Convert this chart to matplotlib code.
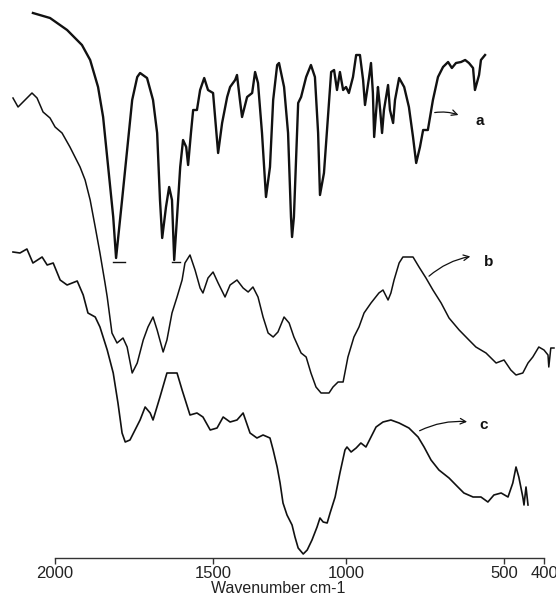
import numpy as np
import matplotlib.pyplot as plt

# Espectros FTIR (numero de onda em cm-1, transmitancia em unidades arbitrarias)
wn_a = [2070, 2016, 1962, 1915, 1889, 1864, 1848, 1832, 1816, 1807, 1788, 1772, 1756, 1740,
        1731, 1709, 1690, 1677, 1668, 1661, 1649, 1639, 1630, 1623, 1614, 1604, 1595, 1585,
        1579, 1570, 1563, 1551, 1541, 1528, 1516, 1500, 1481, 1466, 1447, 1436, 1417, 1410,
        1399, 1391, 1372, 1353, 1342, 1331, 1316, 1301, 1286, 1274, 1259, 1252, 1233, 1218,
        1207, 1203, 1196, 1180, 1169, 1150, 1132, 1117, 1105, 1098, 1083, 1068, 1056, 1045,
        1034, 1023, 1011, 1000, 991, 978, 968, 956, 946, 940, 927, 921, 915, 911, 902, 899,
        892, 886, 880, 867, 861, 851, 845, 832, 816, 801, 788, 778, 766, 756, 741, 725, 709,
        693, 677, 665, 652, 636, 623, 611, 598, 592, 579, 573, 560]
t_a = [109.0, 108.0, 105.6, 102.6, 99.6, 94.2, 88.2, 78.2, 68.2, 60.0, 71.6, 81.6, 91.6, 96.2,
       97.0, 96.0, 91.6, 85.0, 71.6, 64.0, 70.2, 74.2, 71.6, 59.6, 68.2, 78.2, 83.6, 82.2,
       78.6, 85.0, 89.6, 89.6, 93.6, 96.0, 93.6, 93.0, 81.0, 87.0, 92.2, 94.2, 95.6, 96.6,
       91.6, 88.2, 92.2, 93.0, 97.2, 95.0, 85.0, 72.2, 78.2, 91.6, 98.6, 99.0, 94.2, 85.0,
       68.2, 64.2, 68.2, 91.0, 92.2, 96.2, 98.6, 96.2, 85.0, 72.6, 77.0, 88.2, 97.2, 97.6,
       93.6, 97.2, 93.6, 94.2, 93.0, 96.2, 100.6, 100.6, 95.6, 90.6, 96.2, 99.0, 93.0, 84.2,
       91.6, 94.2, 89.6, 85.0, 89.6, 94.6, 89.6, 87.0, 91.6, 96.0, 94.2, 90.2, 84.2, 79.0,
       82.2, 85.6, 85.6, 91.6, 96.2, 98.2, 99.2, 98.0, 99.0, 99.2, 99.6, 99.0, 98.0, 93.6,
       96.6, 99.6, 100.6]

wn_b = [2133, 2117, 2095, 2073, 2057, 2038, 2016, 2000, 1978, 1953, 1937, 1921, 1905, 1889,
        1873, 1858, 1842, 1835, 1820, 1804, 1785, 1772, 1756, 1740, 1721, 1706, 1690, 1677,
        1658, 1646, 1630, 1614, 1598, 1589, 1573, 1557, 1541, 1532, 1516, 1500, 1481, 1455,
        1436, 1410, 1387, 1368, 1350, 1331, 1312, 1293, 1274, 1256, 1233, 1214, 1196, 1169,
        1150, 1132, 1113, 1094, 1064, 1049, 1030, 1011, 994, 975, 959, 943, 921, 896, 883,
        867, 858, 848, 832, 820, 788, 769, 747, 725, 699, 674, 642, 611, 589, 557, 525, 500,
        483, 470, 453, 440, 428, 413, 400, 390, 388, 383, 375]
t_b = [92.0, 90.2, 91.6, 93.0, 92.0, 89.2, 88.0, 86.2, 85.0, 82.2, 80.2, 78.2, 75.6, 71.6,
       66.2, 61.0, 55.0, 52.2, 45.0, 43.0, 44.0, 42.2, 37.0, 39.0, 43.6, 46.2, 48.2, 45.6,
       41.2, 43.6, 49.0, 52.2, 55.6, 59.0, 60.6, 57.6, 54.0, 53.0, 56.0, 57.2, 55.0, 52.2,
       54.6, 55.6, 54.0, 53.2, 54.2, 52.2, 48.2, 45.0, 44.2, 45.2, 48.2, 47.0, 44.2, 41.0,
       40.2, 37.0, 34.2, 33.0, 33.0, 34.2, 35.2, 35.2, 40.2, 44.2, 46.2, 49.0, 51.0, 53.0,
       53.6, 51.6, 53.0, 55.6, 59.0, 60.2, 60.2, 58.2, 56.0, 53.6, 51.0, 48.0, 45.6, 43.6,
       42.2, 41.0, 39.0, 39.6, 37.6, 36.6, 37.0, 39.0, 40.2, 42.2, 41.6, 40.6, 38.2, 42.0,
       42.0]

wn_c = [2133, 2111, 2089, 2070, 2041, 2025, 2006, 1984, 1962, 1930, 1911, 1896, 1873, 1858,
        1835, 1816, 1801, 1788, 1778, 1763, 1747, 1731, 1715, 1699, 1690, 1668, 1646, 1630,
        1614, 1598, 1573, 1551, 1532, 1509, 1485, 1462, 1436, 1410, 1387, 1361, 1335, 1312,
        1286, 1274, 1259, 1248, 1237, 1222, 1203, 1192, 1180, 1161, 1146, 1128, 1109, 1098,
        1086, 1071, 1060, 1041, 1023, 1004, 997, 984, 968, 953, 937, 921, 905, 883, 858, 832,
        801, 772, 753, 731, 706, 674, 646, 627, 598, 573, 551, 532, 509, 490, 478, 470, 463,
        453, 450, 445, 440]
t_c = [61.2, 61.0, 61.8, 59.0, 60.2, 58.6, 59.0, 55.6, 54.6, 55.4, 52.6, 49.0, 48.2, 46.2,
       41.6, 37.0, 31.0, 25.0, 23.2, 23.6, 25.6, 27.6, 30.2, 29.0, 27.6, 32.2, 37.0, 37.0,
       37.0, 33.6, 28.6, 29.0, 28.2, 25.6, 26.0, 28.2, 27.2, 27.6, 29.0, 25.0, 24.0, 24.6,
       24.0, 21.6, 18.2, 15.0, 11.0, 8.6, 6.6, 4.2, 2.0, 0.8, 1.6, 3.6, 6.2, 8.0,
       7.2, 7.0, 9.0, 12.2, 17.0, 21.6, 22.2, 21.2, 22.0, 23.0, 22.2, 24.2, 26.2, 27.2, 27.6, 27.0,
       26.0, 24.2, 22.2, 19.6, 17.6, 16.0, 14.2, 13.0, 12.2, 12.2, 11.2, 12.6, 13.0, 12.2, 15.0, 18.2, 16.2,
       12.2, 10.6, 14.2, 10.6]

# marcadores de pico no espectro a
marcas = [(1816, 1778, 59.2), (1630, 1604, 59.2)]

# rotulos: (inicio da seta, ponta da seta, posicao do texto)
rotulos = {
    "a": ((728, 89.0), (636, 88.4), (590, 87.4)),
    "b": ((744, 56.0), (598, 60.4), (562, 59.2)),
    "c": ((775, 25.2), (608, 27.2), (577, 26.6)),
}

ticks = [2000, 1500, 1000, 500, 400]

# eixo x do original nao e linear: escala por partes
wn_nos = np.array([300, 400, 500, 1000, 1500, 2000, 2300], dtype=float)
pos_nos = -np.array([584, 544, 504, 346, 213, 55, -40], dtype=float)


def fwd(x):
    return np.interp(x, wn_nos, pos_nos)


def inv(y):
    return np.interp(y, pos_nos, wn_nos)


fig = plt.figure(figsize=(5.56, 6.0), dpi=100)
ax = fig.add_axes([0, 0.07, 1, 0.93])
ax.set_xscale('function', functions=(fwd, inv))
ax.set_xlim(2174, 370)
ax.set_ylim(0, 111.6)

cor = '#111111'
ax.plot(wn_a, t_a, color=cor, lw=1.7, solid_joinstyle='round')
ax.plot(wn_b, t_b, color=cor, lw=1.1, solid_joinstyle='round')
ax.plot(wn_c, t_c, color=cor, lw=1.2, solid_joinstyle='round')

for x0, x1, y in marcas:
    ax.plot([x0, x1], [y, y], color=cor, lw=1.0)

for nome, (ini, fim, txt) in rotulos.items():
    ax.annotate('', xy=fim, xytext=ini,
                arrowprops=dict(arrowstyle='->', color=cor, lw=0.9,
                                connectionstyle='arc3,rad=-0.15'))
    ax.text(txt[0], txt[1], nome, fontsize=11, fontweight='bold', color=cor,
            ha='left', va='center', family='Liberation Sans')

for s in ['left', 'right', 'top']:
    ax.spines[s].set_visible(False)
ax.spines['bottom'].set_bounds(2000, 400)
ax.spines['bottom'].set_color('#333333')
ax.spines['bottom'].set_linewidth(1.0)
ax.set_yticks([])
ax.set_xticks(ticks)
ax.set_xticklabels([str(t) for t in ticks])
ax.minorticks_off()
ax.tick_params(axis='x', direction='out', length=4, width=1, color='#333333',
               labelsize=12, labelcolor='#222222', pad=2)
for lbl in ax.get_xticklabels():
    lbl.set_family('Liberation Sans')
ax.set_xlabel('Wavenumber cm-1', fontsize=11.5, color='#222222', labelpad=0,
              family='Liberation Sans')
ax.patch.set_visible(False)

fig.savefig('out.png', dpi=100)
